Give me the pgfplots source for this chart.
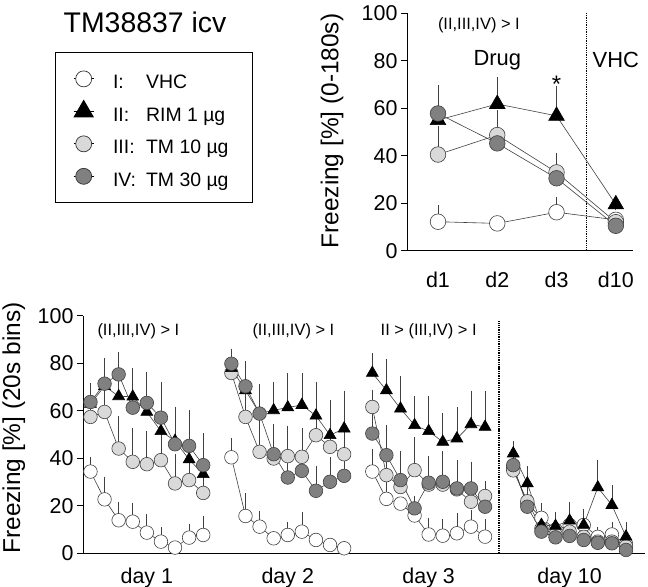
\documentclass[border=0pt]{standalone}
\usepackage{fontspec}
\setmainfont{Liberation Sans}
\usepackage{pgfplots}
\pgfplotsset{compat=1.18}
\usepackage{pgfplotstable}
\definecolor{lgray}{HTML}{D9D9D9}
\definecolor{dgray}{HTML}{808080}
\definecolor{edge}{HTML}{333333}

\pgfplotstableread{
x y e
0 34.5 4
1 22.8 7.2
2 14 5.5
3 13.4 5.6
4 8.8 5.7
5 5 4
6 2.5 0
7 6.7 3.3
8 7.8 5.7
9 nan 0
10 40.5 5.8
11 15.8 7.2
12 11.3 4.2
13 6.4 0
14 7.8 3.1
15 9.2 5.8
16 5.7 0
17 3.6 0
18 2.2 0
19 nan 0
20 34.5 7.3
21 23 6
22 21 0
23 16 0
24 8 4.5
25 7.5 4.5
26 8.5 6.3
27 11.3 4.9
28 7.1 5.2
29 nan 0
30 36 4
31 21 4
32 15 4
33 10 3
34 12 2
35 12 2
36 7 2
37 8 3
38 4 2
}\binI

\pgfplotstableread{
x y e
0 63 6
1 70.5 8
2 66.2 9.5
3 66 9.7
4 59.6 12.6
5 51.5 11
6 47.4 12
7 39.6 13.3
8 33.4 14
9 nan 0
10 78 5
11 68.7 10
12 59 10
13 60.3 9.5
14 61.5 12
15 62.5 11.3
16 58 11.8
17 49.8 12.6
18 52.6 13.7
19 nan 0
20 76 6
21 68.7 11
22 61 11.5
23 54 9.8
24 51.5 12.3
25 47 9.8
26 48.4 10.8
27 54.4 11.5
28 53.3 12.6
29 nan 0
30 42.1 2.8
31 29.5 4.9
32 12 5
33 11.6 3.6
34 13.8 5.4
35 12 4.5
36 27.8 9.1
37 20.4 6
38 7.1 3.9
}\binII

\pgfplotstableread{
x y e
0 57.5 11
1 59.6 8
2 44.2 11.2
3 38.6 11.9
4 37.6 11.5
5 39.3 9
6 29.5 10
7 30.9 12
8 25.5 20.5
9 nan 0
10 76 5
11 57.5 12
12 42.8 11
13 40 12
14 41 10.5
15 40.7 10
16 49.8 12
17 44.9 13
18 41.8 8
19 nan 0
20 61.7 5
21 33 12
22 28 6
23 35.1 11.7
24 29 7
25 29 7
26 27 7
27 21.8 10
28 24.2 4
29 nan 0
30 35 9
31 22 10
32 10.5 8
33 8 4
34 9.2 6
35 7 5
36 5 3
37 5 4
38 3 3
}\binIII

\pgfplotstableread{
x y e
0 63.8 5.6
1 71.5 8.4
2 75.4 7.3
3 61.4 14.3
4 63.4 10.6
5 57.2 12.5
6 46 13.2
7 45.3 12.9
8 37.2 11.2
9 nan 0
10 79.9 4
11 70.4 8
12 58.9 10
13 41.8 10
14 32 10
15 34.8 10
16 26.4 8
17 30.2 8
18 32.7 9
19 nan 0
20 50.5 6.3
21 41.4 10.5
22 30.9 10
23 19 3
24 29.8 9
25 30.2 10.7
26 27.4 9.7
27 27.4 9
28 19.7 7.3
29 nan 0
30 37.2 6
31 19.7 8
32 9.2 6
33 6.8 4
34 7.4 5
35 5.7 3
36 4.5 3
37 4.3 3
38 1.5 2
}\binIV

\pgfplotstableread{
x y e
1 12.2 4.7
2 11.5 0
3 16.2 4.2
4 13 0
}\totI
\pgfplotstableread{
x y e
1 55 8.8
2 61.8 9
3 56.8 10.2
4 19.5 0
}\totII
\pgfplotstableread{
x y e
1 40.5 9.6
2 48.7 8.2
3 33 6
4 12 0
}\totIII
\pgfplotstableread{
x y e
1 57.8 9.5
2 45.2 8.2
3 30.5 4
4 10.5 0
}\totIV

\pgfplotsset{
  grp/.style={line width=0.6bp, draw=black!75,
    mark options={solid, draw=edge, line width=0.7bp},
    error bars/y dir=plus, error bars/y explicit,
    error bars/error bar style={line width=0.7bp, draw=black!75},
    error bars/error mark options={line width=0.7bp, mark size=5.5bp, draw=black!75}},
  frame/.style={scale only axis, axis lines=left,
    axis line style={-, line width=1bp},
    tick align=outside, major tick length=6bp,
    ytick={0,20,40,60,80,100},
    tick style={line width=1bp, black},
    x tick style={draw=none},
    ticklabel style={font=\fontsize{21.5}{25}\selectfont},
    /pgf/number format/assume math mode=true,
    label style={font=\fontsize{24.5}{28}\selectfont},
    ymin=0, ymax=100, clip=false, unbounded coords=jump},
}

\begin{document}
\begin{tikzpicture}
\path[use as bounding box] (0,0) rectangle (648bp,587bp);
\node[font=\fontsize{28.5}{32}\selectfont] at (145bp,564.5bp) {TM38837 icv};

% ---------- top axis ----------
\begin{axis}[frame, at={(407bp,336.3bp)}, anchor=south west,
  width=226bp, height=237.4bp, xmin=0.477, xmax=4.29,
  xtick={1,2,3,4}, xticklabels={d1,d2,d3,d10},
  xticklabel style={anchor=base, yshift=-31bp},
  ylabel={Freezing [\%] (0-180s)},
  ylabel style={at={(axis description cs:-0.332,0.504)}, anchor=center},
  legend style={at={(axis description cs:-1.558,0.837)}, anchor=north west,
    draw=black, line width=0.8bp, inner xsep=18bp, inner ysep=13bp,
    font=\fontsize{19.5}{22}\selectfont, /tikz/column sep=17bp, /tikz/row sep=5.5bp,
    cells={anchor=west, inner sep=0pt}},
  legend image code/.code={\path (-10bp,0bp) -- (10bp,0bp);
    \draw[#1] plot coordinates {(0bp,0bp)};},
]
\addlegendimage{only marks, mark=*, mark size=8bp, mark options={fill=white, draw=edge, line width=0.7bp}}
\addlegendentry{\makebox[119bp][l]{\rule[-9bp]{0pt}{30.5bp}\makebox[33bp][l]{I:}VHC}}
\addlegendimage{only marks, mark=triangle*, mark size=11bp, mark options={fill=black, draw=black}}
\addlegendentry{\makebox[119bp][l]{\rule[-9bp]{0pt}{30.5bp}\makebox[33bp][l]{II:}RIM 1 µg}}
\addlegendimage{only marks, mark=*, mark size=8bp, mark options={fill=lgray, draw=edge, line width=0.7bp}}
\addlegendentry{\makebox[119bp][l]{\rule[-9bp]{0pt}{30.5bp}\makebox[33bp][l]{III:}TM 10 µg}}
\addlegendimage{only marks, mark=*, mark size=8bp, mark options={fill=dgray, draw=edge, line width=0.7bp}}
\addlegendentry{\makebox[119bp][l]{\rule[-9bp]{0pt}{30.5bp}\makebox[33bp][l]{IV:}TM 30 µg}}

\draw[densely dotted, line width=1.3bp] (axis cs:3.5,0) -- (axis cs:3.5,100);
\addplot[grp, mark=*, mark size=7.8bp, mark options={fill=white}] table[x=x,y=y,y error=e] {\totI};
\addplot[grp, mark=*, mark size=7.8bp, mark options={fill=lgray}] table[x=x,y=y,y error=e] {\totIII};
\addplot[grp, mark=triangle*, mark size=9bp, mark options={fill=black, draw=black}] table[x=x,y=y,y error=e] {\totII};
\addplot[grp, mark=*, mark size=7.8bp, mark options={fill=dgray}] table[x=x,y=y,y error=e] {\totIV};
\node[font=\fontsize{16.5}{19}\selectfont] at (axis cs:1.69,95) {(II,III,IV) > I};
\node[font=\fontsize{22}{26}\selectfont] at (axis cs:2,80.3) {Drug};
\node[font=\fontsize{22}{26}\selectfont] at (axis cs:4,80.3) {VHC};
\node[font=\fontsize{24}{28}\selectfont] at (axis cs:3,70) {*};
\end{axis}

% ---------- bottom axis ----------
\begin{axis}[frame, at={(83bp,33.5bp)}, anchor=south west,
  width=562bp, height=237.5bp, xmin=-0.53, xmax=39.35,
  xtick={4,14,24,34}, xticklabels={day 1,day 2,day 3,day 10},
  xticklabel style={anchor=base, yshift=-23.5bp, font=\fontsize{21.5}{25}\selectfont},
  ylabel={Freezing [\%] (20s bins)},
  ylabel style={at={(axis description cs:-0.123,0.528)}, anchor=center},
]
\draw[densely dotted, line width=1.3bp] (axis cs:29,0) -- (axis cs:29,98);
\addplot[grp, mark=*, mark size=6.8bp, mark options={fill=white}] table[x=x,y=y,y error=e] {\binI};
\addplot[grp, mark=*, mark size=6.8bp, mark options={fill=lgray}] table[x=x,y=y,y error=e] {\binIII};
\addplot[grp, mark=triangle*, mark size=6.9bp, mark options={fill=black, draw=black}] table[x=x,y=y,y error=e] {\binII};
\addplot[grp, mark=*, mark size=6.8bp, mark options={fill=dgray}] table[x=x,y=y,y error=e] {\binIV};
\node[font=\fontsize{16.5}{19}\selectfont] at (axis cs:3.4,93.4) {(II,III,IV) > I};
\node[font=\fontsize{16.5}{19}\selectfont] at (axis cs:14.4,93.4) {(II,III,IV) > I};
\node[font=\fontsize{16.5}{19}\selectfont] at (axis cs:24,93.4) {II > (III,IV) > I};
\end{axis}
\end{tikzpicture}
\end{document}
